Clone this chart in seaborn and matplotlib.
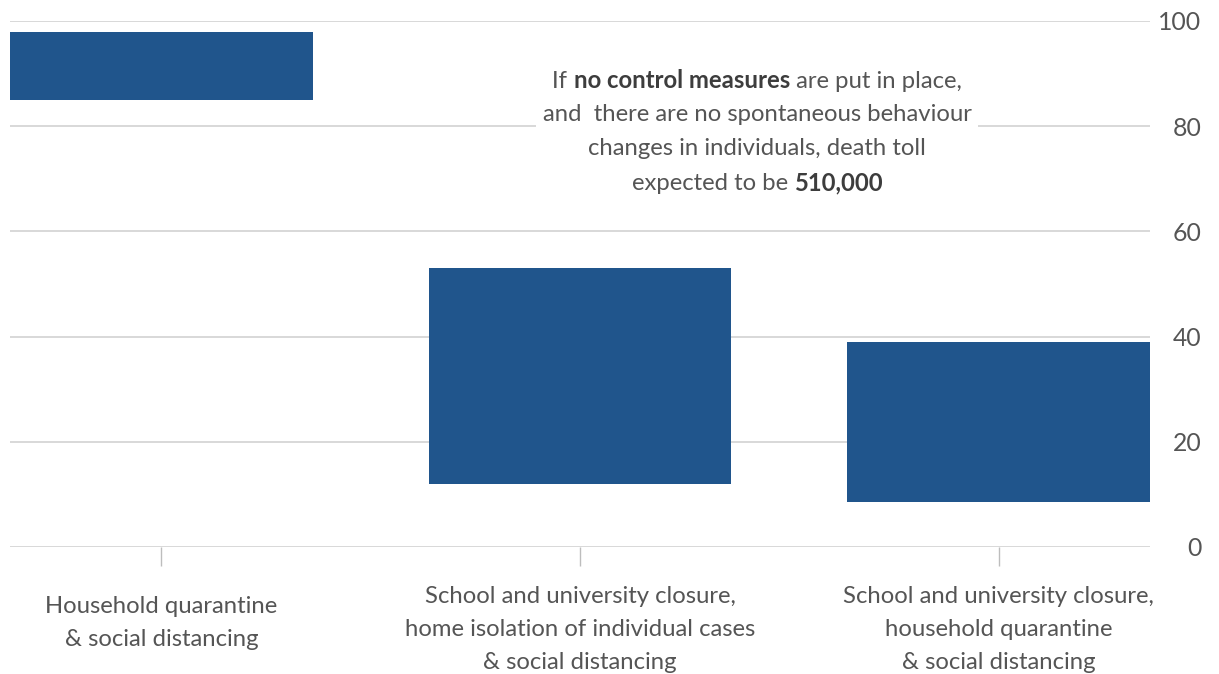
import matplotlib
matplotlib.use("Agg")
import matplotlib.pyplot as plt
import matplotlib.transforms as mtransforms
from matplotlib.offsetbox import TextArea, HPacker, VPacker, AnnotationBbox
import seaborn as sns
import pandas as pd

# ---- data ----
categories = [
    "Household quarantine\n& social distancing",
    "School and university closure,\nhome isolation of individual cases\n& social distancing",
    "School and university closure,\nhousehold quarantine\n& social distancing",
]
low_values = [85, 12, 8.5]
high_values = [98, 53, 39]
y_ticks = [0, 20, 40, 60, 80, 100]

BAR = "#20558c"
TXT = "#555555"
GRID = "#d6d6d6"

sns.set_theme(style="white")
plt.rcParams["font.family"] = ["Lato", "DejaVu Sans"]

fig = plt.figure(figsize=(12.19, 6.74), dpi=100)
ax = fig.add_axes([10 / 1219, 1 - 547 / 674, 1140 / 1219, (547 - 21) / 674])

df = pd.DataFrame({"cat": categories,
                   "height": [h - l for h, l in zip(high_values, low_values)]})
sns.barplot(data=df, x="cat", y="height", color=BAR, saturation=1,
            width=0.723, ax=ax, zorder=3, edgecolor="none")
for patch, lo, hi in zip(ax.patches, low_values, high_values):
    patch.set_y(lo)
    patch.set_height(hi - lo)

ax.set_xlim(-0.3616, 2.3616)
ax.set_ylim(0, 100)
ax.set_yticks(y_ticks)
ax.set_yticklabels([str(v) for v in y_ticks])
ax.yaxis.tick_right()
ax.grid(axis="y", color=GRID, lw=1.3, zorder=0)
ax.grid(axis="x", visible=False)
for s in ax.spines.values():
    s.set_visible(False)
ax.set_xlabel("")
ax.set_ylabel("")

ax.tick_params(axis="y", length=0, pad=37, labelsize=17.8, labelcolor=TXT)
for lab in ax.get_yticklabels():
    lab.set_ha("right")
ax.tick_params(axis="x", length=14, width=1, color="#bdbdbd", pad=14,
               labelsize=17.2, labelcolor=TXT, bottom=True)
for lab in ax.get_xticklabels():
    lab.set_linespacing(1.72)
    lab.set_va("top")
# first label sits a bit lower
first = ax.get_xticklabels()[0]
first.set_transform(first.get_transform() +
                    mtransforms.ScaledTranslation(0, -10 / 100, fig.dpi_scale_trans))

# ---- annotation with mixed bold text ----
fs = 17.2
norm = dict(color=TXT, fontsize=fs, fontfamily="Lato")
bold = dict(color="#3d3d3d", fontsize=fs, fontfamily="Lato", fontweight="bold")

def line(parts):
    return HPacker(children=[TextArea(t, textprops=p) for t, p in parts],
                   align="baseline", pad=0, sep=0)

lines = [
    line([("If ", norm), ("no control measures", bold), (" are put in place,", norm)]),
    line([("and  there are no spontaneous behaviour", norm)]),
    line([("changes in individuals, death toll", norm)]),
    line([("expected to be ", norm), ("510,000", bold)]),
]
box = VPacker(children=lines, align="center", pad=0, sep=9)
ab = AnnotationBbox(box, (1.423, 79), xycoords="data", frameon=True,
                    pad=0.45, zorder=5,
                    bboxprops=dict(facecolor="white", edgecolor="none"))
ax.add_artist(ab)

fig.savefig("out.png", dpi=100, facecolor="white")
